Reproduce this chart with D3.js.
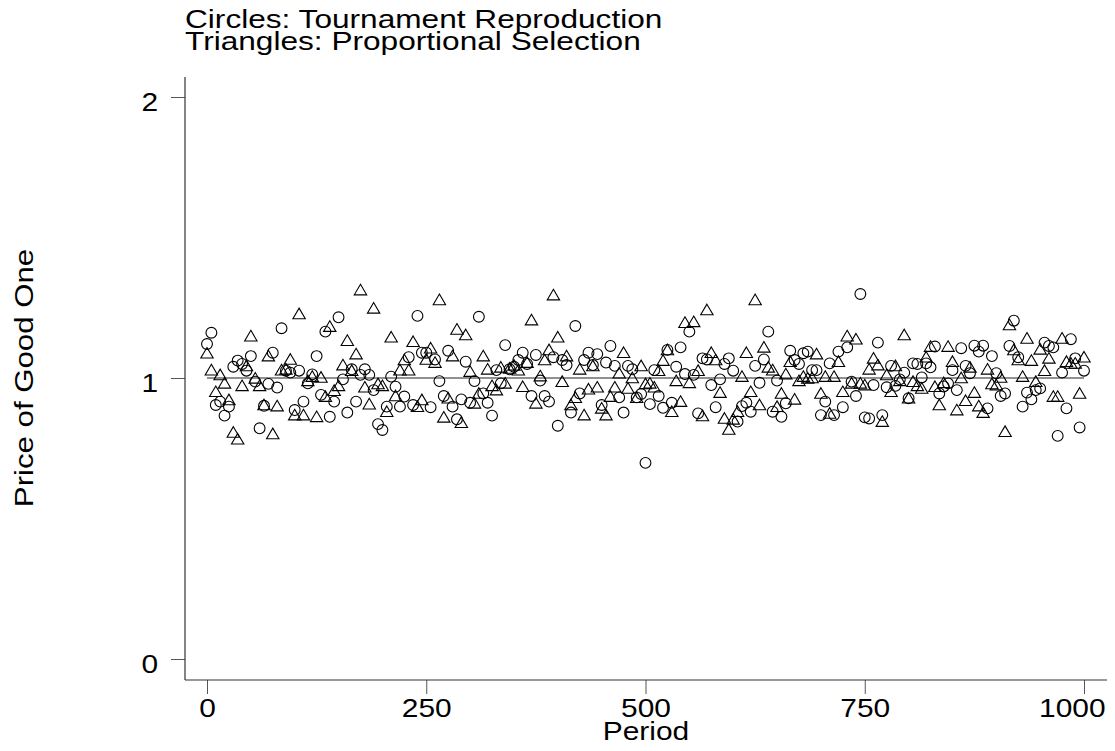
<!DOCTYPE html>
<html>
<head>
<meta charset="utf-8">
<script src="https://cdn.jsdelivr.net/npm/d3@7"></script>
<style>
  html, body { margin: 0; padding: 0; background: #ffffff; }
  svg { display: block; }
  text { font-family: "Liberation Sans", Arial, Helvetica, sans-serif; fill: #000; }
</style>
</head>
<body>
<svg id="chart" width="1115" height="751"></svg>
<script>
// ---- Data ---------------------------------------------------------------
const titleLines = ["Circles: Tournament Reproduction", "Triangles: Proportional Selection"];
const xLabel = "Period";
const yLabel = "Price of Good One";
const xTicks = [0, 250, 500, 750, 1000];
const yTicks = [0, 1, 2];
const referenceLevel = 1;

// sampled every 5 periods, 0..1000
const periods = d3.range(0, 1001, 5);

// circles: tournament reproduction
const tournament = [
  1.121, 1.161, 0.904, 0.916, 0.866, 0.898, 1.040, 1.062, 1.050, 1.026,
  1.078, 0.987, 0.821, 0.901, 0.979, 1.090, 0.966, 1.177, 1.026, 1.019,
  0.886, 1.026, 0.916, 0.981, 1.013, 1.078, 0.940, 1.165, 0.862, 0.916,
  1.216, 0.995, 0.877, 1.031, 0.916, 1.011, 1.031, 1.011, 0.957, 0.836,
  0.815, 0.898, 1.005, 0.969, 0.898, 0.934, 1.074, 0.904, 1.221, 1.090,
  1.090, 0.896, 1.066, 0.989, 0.936, 1.097, 0.898, 0.853, 0.924, 1.058,
  0.912, 0.989, 1.218, 0.945, 0.912, 0.866, 1.028, 0.981, 1.117, 1.031,
  1.040, 1.064, 1.090, 1.050, 0.936, 1.082, 0.991, 0.936, 0.916, 1.074,
  0.830, 1.064, 1.046, 0.877, 1.185, 0.945, 1.064, 1.090, 1.046, 1.085,
  0.904, 1.055, 1.114, 1.043, 0.931, 0.877, 1.043, 1.031, 0.931, 0.943,
  0.698, 0.907, 1.028, 0.936, 0.894, 1.100, 0.912, 1.040, 1.109, 1.014,
  1.165, 1.011, 0.874, 1.070, 1.066, 0.975, 0.896, 0.995, 1.050, 1.070,
  1.026, 0.845, 0.900, 0.912, 0.880, 1.043, 0.983, 1.066, 1.165, 0.880,
  0.991, 0.862, 0.910, 1.097, 1.064, 1.050, 1.088, 1.094, 1.028, 1.028,
  0.868, 0.916, 1.052, 0.868, 1.094, 0.896, 1.109, 0.987, 0.936, 1.299,
  0.860, 0.856, 0.975, 1.126, 0.868, 0.967, 1.043, 0.972, 0.995, 1.019,
  0.928, 1.052, 1.050, 1.002, 1.052, 1.038, 1.112, 0.945, 0.970, 0.981,
  1.028, 0.957, 1.106, 1.043, 1.017, 1.115, 1.094, 1.115, 0.892, 1.078,
  1.017, 0.936, 0.945, 1.114, 1.204, 1.074, 0.898, 0.948, 0.924, 0.957,
  0.963, 1.126, 1.114, 1.109, 0.794, 1.019, 0.892, 1.138, 1.070, 0.824,
  1.026
];

// triangles: proportional selection
const proportional = [
  1.088, 1.028, 0.951, 1.011, 0.981, 0.922, 0.806, 0.782, 0.972, 1.043,
  1.149, 0.999, 0.972, 0.904, 1.078, 0.801, 0.900, 1.028, 1.031, 1.066,
  0.868, 1.228, 0.868, 0.990, 1.005, 0.862, 1.002, 0.934, 1.183, 0.955,
  0.972, 1.046, 1.133, 1.026, 1.085, 1.313, 0.967, 0.907, 1.248, 0.979,
  0.972, 0.880, 1.145, 0.936, 1.028, 1.064, 1.028, 1.129, 0.898, 0.922,
  1.066, 1.106, 1.055, 1.278, 0.860, 0.928, 1.078, 1.173, 0.841, 1.153,
  1.023, 0.910, 0.945, 1.078, 1.031, 0.972, 0.957, 1.038, 0.981, 1.034,
  1.045, 1.028, 0.969, 1.055, 1.206, 0.910, 1.007, 1.064, 1.100, 1.295,
  1.145, 0.987, 1.078, 0.904, 0.930, 1.031, 0.868, 0.960, 1.043, 0.967,
  0.892, 0.868, 0.934, 0.967, 1.017, 1.090, 0.963, 1.000, 0.930, 1.043,
  0.979, 0.981, 0.967, 1.026, 1.062, 1.100, 0.880, 0.990, 0.916, 1.197,
  0.983, 1.200, 1.026, 0.865, 1.242, 1.090, 1.064, 0.948, 0.856, 0.817,
  0.853, 0.880, 1.005, 1.090, 0.951, 1.278, 0.904, 1.109, 1.038, 1.028,
  0.898, 0.945, 1.014, 1.058, 0.924, 0.990, 1.005, 0.999, 1.000, 1.085,
  0.945, 1.005, 0.874, 1.005, 1.058, 0.951, 1.149, 0.981, 1.138, 0.981,
  0.975, 1.031, 1.070, 1.046, 0.845, 1.011, 0.951, 1.043, 0.990, 1.153,
  0.928, 0.987, 0.972, 0.963, 1.074, 1.112, 0.969, 0.904, 0.983, 1.112,
  1.058, 0.886, 1.000, 0.919, 1.038, 0.948, 0.900, 0.877, 1.031, 0.979,
  0.975, 1.002, 0.809, 1.189, 1.100, 1.064, 1.005, 1.141, 1.062, 0.987,
  1.102, 1.026, 1.070, 0.934, 0.934, 1.141, 1.058, 1.052, 1.052, 0.945,
  1.074
];

// ---- Layout -------------------------------------------------------------
const frame = { left: 185, right: 1107, top: 77, bottom: 680 };
const tickLen = 14;
// the lettering is drawn horizontally widened
const wideTitle = 1.24, wideLabel = 1.2, wideTick = 1.15;

const x = d3.scaleLinear().domain([0, 1000]).range([207, 1084]);
const y = d3.scaleLinear().domain([0, 2]).range([659, 97]);

const svg = d3.select("#chart");

// ---- Title --------------------------------------------------------------
svg.append("g").selectAll("text")
  .data(titleLines)
  .join("text")
  .attr("font-size", 25.5)
  .attr("transform", (d, i) => `translate(${frame.left},${28 + i * 22}) scale(${wideTitle},1)`)
  .text(d => d);

// ---- Axes ---------------------------------------------------------------
const axisColor = "#333";

const gx = svg.append("g")
  .attr("transform", `translate(0,${frame.bottom})`)
  .call(d3.axisBottom(x).tickValues(xTicks).tickSize(tickLen).tickFormat(d3.format("d")));
gx.select(".domain").remove();
gx.attr("font-family", null).attr("font-size", null);
gx.selectAll(".tick line").attr("stroke", "#555").attr("stroke-width", 1);
gx.selectAll(".tick text")
  .attr("font-size", 26)
  .attr("fill", "#000")
  .attr("y", 37).attr("dy", 0)
  .attr("transform", `scale(${wideTick},1)`);
// the last label is pulled in so it stays inside the page
gx.selectAll(".tick text")
  .filter(d => d === xTicks[xTicks.length - 1])
  .attr("text-anchor", "end")
  .attr("x", (frame.right - 2 - x(xTicks[xTicks.length - 1])) / wideTick);

const gy = svg.append("g")
  .attr("transform", `translate(${frame.left},0)`)
  .call(d3.axisLeft(y).tickValues(yTicks).tickSize(tickLen).tickFormat(d3.format("d")));
gy.select(".domain").remove();
gy.attr("font-family", null).attr("font-size", null);
gy.selectAll(".tick line").attr("stroke", "#555").attr("stroke-width", 1);
gy.selectAll(".tick text")
  .attr("font-size", 26)
  .attr("fill", "#000")
  .attr("x", -27 / wideTick).attr("y", 13).attr("dy", 0)
  .attr("transform", `scale(${wideTick},1)`);

// axis lines
svg.append("line")
  .attr("x1", frame.left).attr("x2", frame.left)
  .attr("y1", frame.top).attr("y2", frame.bottom)
  .attr("stroke", axisColor).attr("stroke-width", 1.2);
svg.append("line")
  .attr("x1", frame.left).attr("x2", frame.right)
  .attr("y1", frame.bottom).attr("y2", frame.bottom)
  .attr("stroke", axisColor).attr("stroke-width", 1.2);

// axis titles
svg.append("text")
  .attr("font-size", 26)
  .attr("text-anchor", "middle")
  .attr("transform", `translate(${(frame.left + frame.right) / 2},740) scale(${wideTick},1)`)
  .text(xLabel);

svg.append("text")
  .attr("font-size", 26)
  .attr("text-anchor", "middle")
  .attr("transform", `translate(33,${(y(0) + y(2)) / 2}) rotate(-90) scale(${wideLabel},1)`)
  .text(yLabel);

// ---- Reference line at price 1 -------------------------------------------
svg.append("line")
  .attr("x1", x(periods[0])).attr("x2", x(periods[periods.length - 1]))
  .attr("y1", y(referenceLevel)).attr("y2", y(referenceLevel))
  .attr("stroke", "#222").attr("stroke-width", 1.2);

// ---- Markers ------------------------------------------------------------
const circleData = periods.map((p, i) => ({ p, v: tournament[i] }));
const triangleData = periods.map((p, i) => ({ p, v: proportional[i] }));

svg.append("g")
  .selectAll("circle")
  .data(circleData)
  .join("circle")
  .attr("cx", d => x(d.p))
  .attr("cy", d => y(d.v))
  .attr("r", 5.4)
  .attr("fill", "none")
  .attr("stroke", "#000")
  .attr("stroke-width", 1.1);

const tri = "M0,-5.8L6.2,4.8L-6.2,4.8Z";
svg.append("g")
  .selectAll("path")
  .data(triangleData)
  .join("path")
  .attr("d", tri)
  .attr("transform", d => `translate(${x(d.p)},${y(d.v)})`)
  .attr("fill", "none")
  .attr("stroke", "#000")
  .attr("stroke-width", 1.1)
  .attr("stroke-linejoin", "miter");
</script>
</body>
</html>
